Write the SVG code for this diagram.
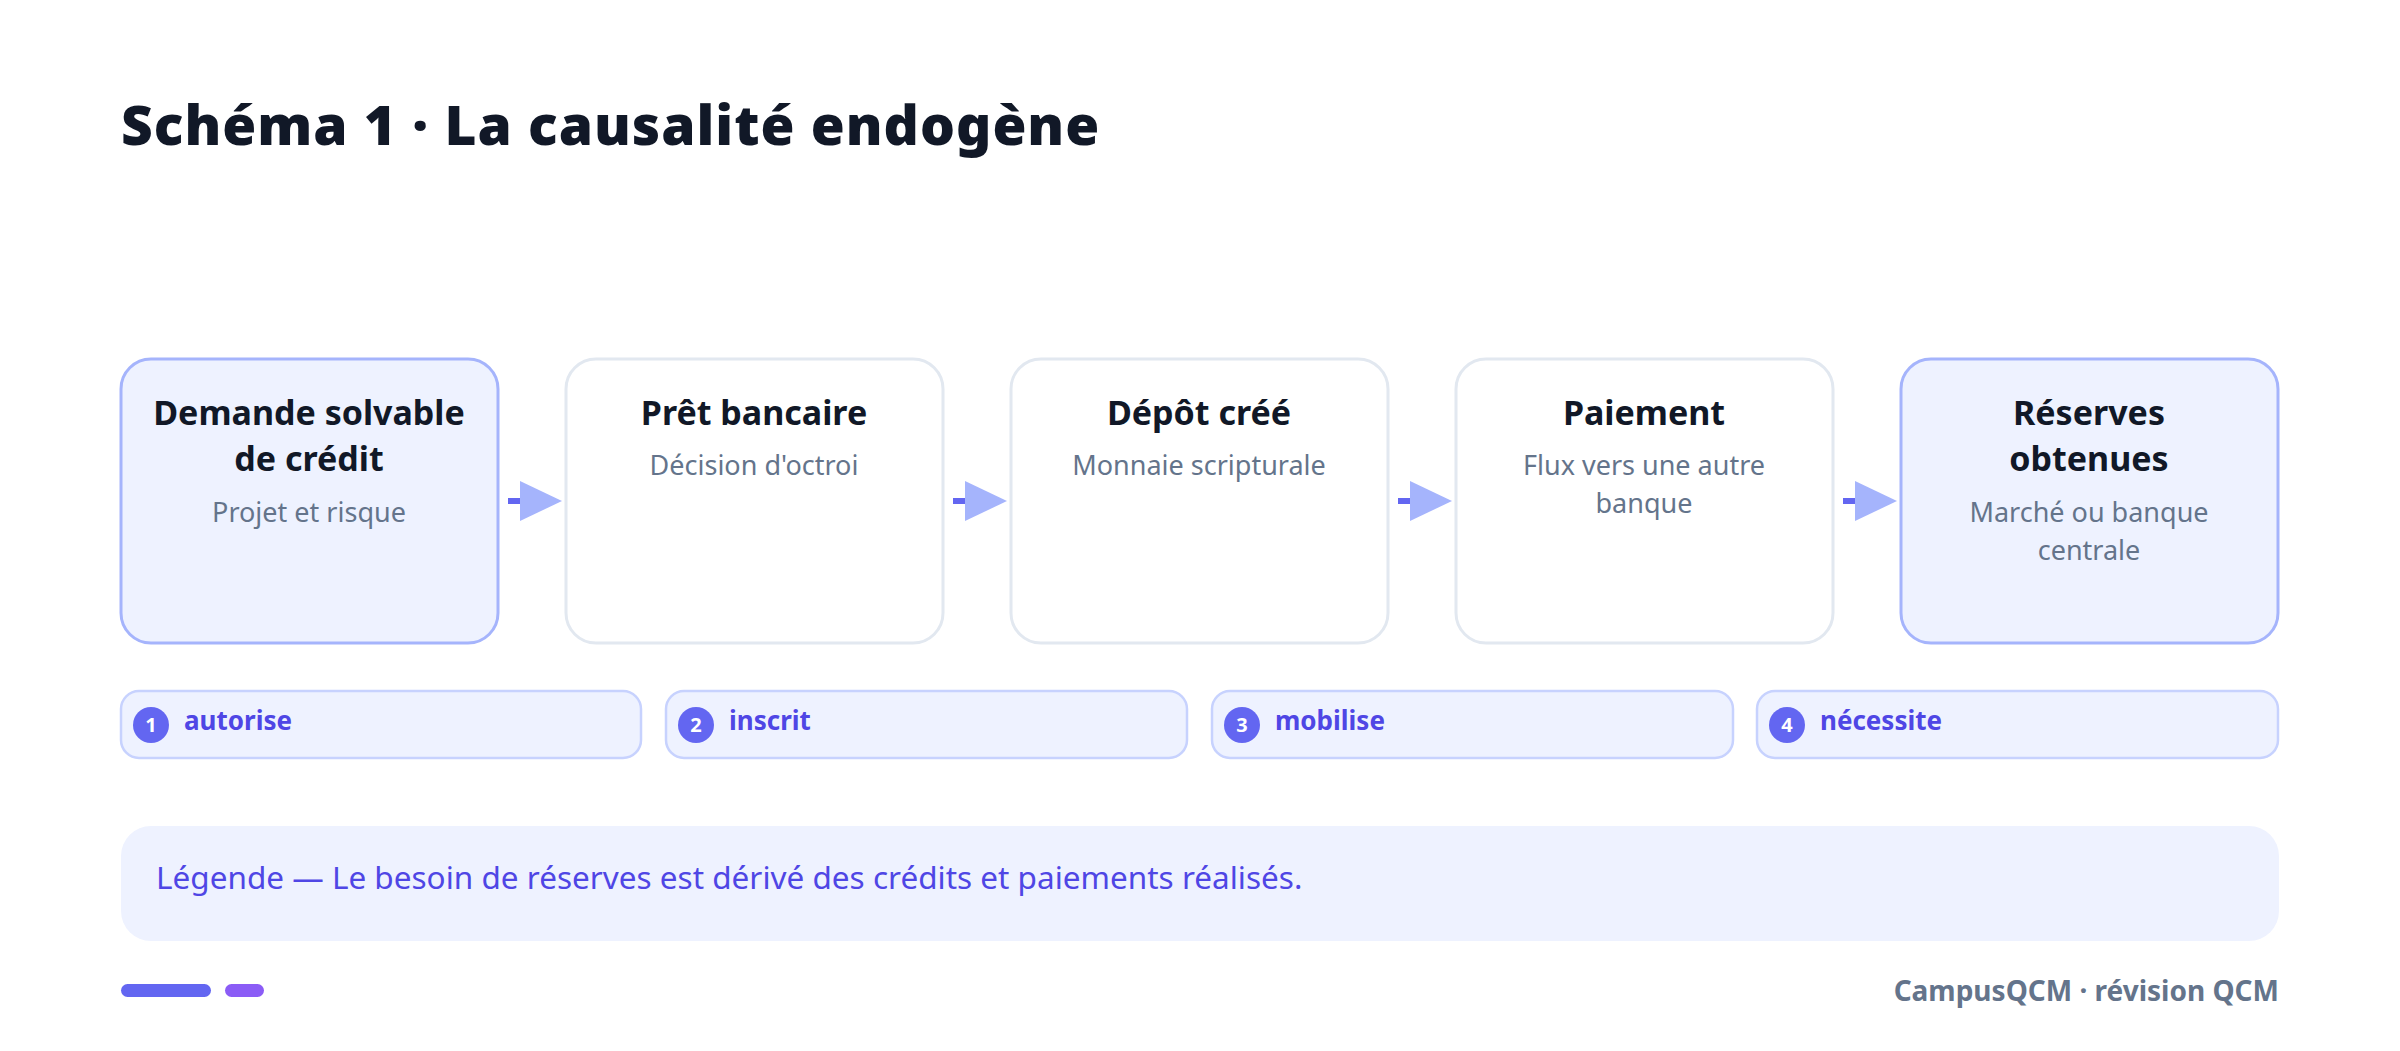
<svg xmlns="http://www.w3.org/2000/svg" width="2400" height="1051" viewBox="0 0 2400 1051">
<style>
text{font-family:"Noto Sans","Open Sans","Liberation Sans",sans-serif}
.title{font-size:55px;font-weight:900;fill:#111827;letter-spacing:1px}
.box{fill:#ffffff;stroke:#e2e8f0;stroke-width:3}
.hl{fill:#eef2ff;stroke:#a5b4fc;stroke-width:3}
.nt{font-size:34px;font-weight:700;fill:#111827;text-anchor:middle}
.ns{font-size:27px;fill:#64748b;text-anchor:middle}
.badge{fill:#eef2ff;stroke:#c7d2fe;stroke-width:2.5}
.num{font-size:20px;font-weight:700;fill:#ffffff;text-anchor:middle}
.bt{font-size:26px;font-weight:700;fill:#4f46e5}
.dash{stroke:#6366f1;stroke-width:6}
.head{fill:#a5b4fc}
</style>
<rect width="2400" height="1051" fill="#ffffff"/>
<text class="title" x="121" y="145">Schéma 1 · La causalité endogène</text>
<g id="n1"><rect class="hl" x="121" y="359" width="377" height="284" rx="30"/><text class="nt" x="309" y="425">Demande solvable</text><text class="nt" x="309" y="471">de crédit</text><text class="ns" x="309" y="522">Projet et risque</text></g>
<g id="n2"><rect class="box" x="566" y="359" width="377" height="284" rx="30"/><text class="nt" x="754" y="425">Prêt bancaire</text><text class="ns" x="754" y="475">Décision d'octroi</text></g>
<g id="n3"><rect class="box" x="1011" y="359" width="377" height="284" rx="30"/><text class="nt" x="1199" y="425">Dépôt créé</text><text class="ns" x="1199" y="475">Monnaie scripturale</text></g>
<g id="n4"><rect class="box" x="1456" y="359" width="377" height="284" rx="30"/><text class="nt" x="1644" y="425">Paiement</text><text class="ns" x="1644" y="475">Flux vers une autre</text><text class="ns" x="1644" y="513">banque</text></g>
<g id="n5"><rect class="hl" x="1901" y="359" width="377" height="284" rx="30"/><text class="nt" x="2089" y="425">Réserves</text><text class="nt" x="2089" y="471">obtenues</text><text class="ns" x="2089" y="522">Marché ou banque</text><text class="ns" x="2089" y="560">centrale</text></g>
<g id="connectors">
<line class="dash" x1="508" y1="501" x2="521" y2="501"/><polygon class="head" points="520,481 562,501 520,521"/>
<line class="dash" x1="953" y1="501" x2="966" y2="501"/><polygon class="head" points="965,481 1007,501 965,521"/>
<line class="dash" x1="1398" y1="501" x2="1411" y2="501"/><polygon class="head" points="1410,481 1452,501 1410,521"/>
<line class="dash" x1="1843" y1="501" x2="1856" y2="501"/><polygon class="head" points="1855,481 1897,501 1855,521"/>
</g>
<g id="b1"><rect class="badge" x="121" y="691" width="520" height="67" rx="18"/><circle cx="151" cy="725" r="18" fill="#6366f1"/><text class="num" x="151" y="732">1</text><text class="bt" x="184" y="730">autorise</text></g>
<g id="b2"><rect class="badge" x="666" y="691" width="521" height="67" rx="18"/><circle cx="696" cy="725" r="18" fill="#6366f1"/><text class="num" x="696" y="732">2</text><text class="bt" x="729" y="730">inscrit</text></g>
<g id="b3"><rect class="badge" x="1212" y="691" width="521" height="67" rx="18"/><circle cx="1242" cy="725" r="18" fill="#6366f1"/><text class="num" x="1242" y="732">3</text><text class="bt" x="1275" y="730">mobilise</text></g>
<g id="b4"><rect class="badge" x="1757" y="691" width="521" height="67" rx="18"/><circle cx="1787" cy="725" r="18" fill="#6366f1"/><text class="num" x="1787" y="732">4</text><text class="bt" x="1820" y="730">nécessite</text></g>
<g id="legend"><rect x="121" y="826" width="2158" height="115" rx="30" fill="#eef2ff"/><text x="156" y="889" font-size="31.5" fill="#4f46e5">Légende — Le besoin de réserves est dérivé des crédits et paiements réalisés.</text></g>
<rect x="121" y="984" width="90" height="13" rx="6.5" fill="#6366f1"/>
<rect x="225" y="984" width="39" height="13" rx="6.5" fill="#8b5cf6"/>
<text x="2279" y="1001" font-size="28" font-weight="700" fill="#64748b" text-anchor="end">CampusQCM · révision QCM</text>
</svg>
